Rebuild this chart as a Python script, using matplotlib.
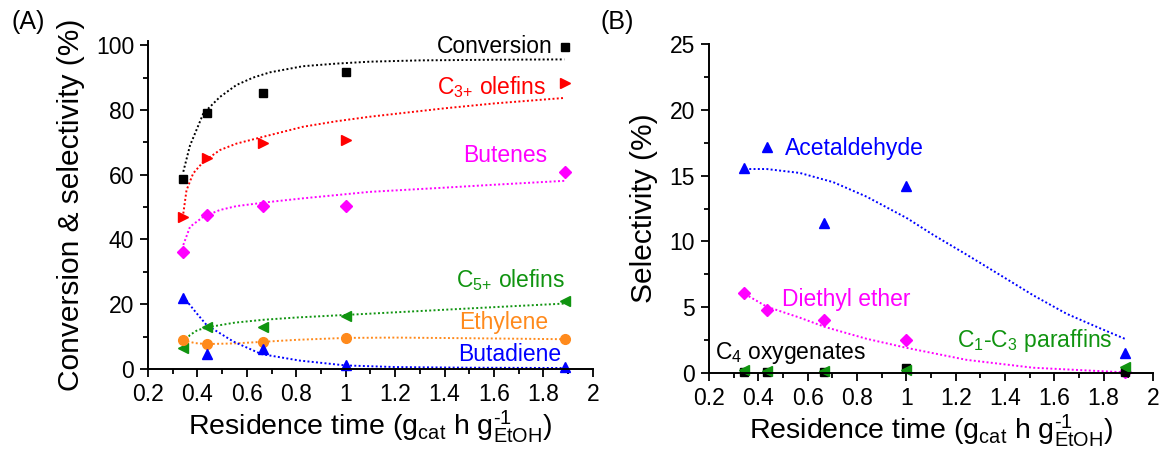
import matplotlib
matplotlib.use('Agg')
from matplotlib import pyplot as plt
from matplotlib.ticker import MultipleLocator, FuncFormatter

plt.rcParams['font.family'] = ['Liberation Sans', 'DejaVu Sans']
plt.rcParams['mathtext.fontset'] = 'custom'
plt.rcParams['mathtext.rm'] = 'Liberation Sans'
plt.rcParams['mathtext.it'] = 'Liberation Sans:italic'
plt.rcParams['mathtext.default'] = 'regular'

# residence time (g_cat h / g_EtOH)
res_time = [0.343, 0.437, 0.667, 1.0, 1.886]

# panel A: conversion & selectivity (%)
conversion = [58.6, 79.1, 85.3, 91.6, 99.5]
c3_olefins = [46.9, 65.3, 69.7, 70.8, 88.4]
butenes = [36.1, 47.5, 50.3, 50.3, 60.8]
c5_olefins = [6.4, 13.1, 13.1, 16.4, 20.9]
ethylene = [8.95, 7.7, 8.2, 9.7, 9.3]
butadiene = [22.0, 4.5, 6.3, 1.2, 0.7]

# panel B: selectivity (%)
acetaldehyde = [15.55, 17.15, 11.4, 14.2, 1.54]
diethyl_ether = [6.1, 4.8, 4.0, 2.5, 0.05]
c4_oxygenates = [0.1, 0.05, 0.05, 0.4, 0.1]
c1c3_paraffins = [0.25, 0.15, 0.15, 0.2, 0.45]

# trend curves
conv_fit_x = [0.343, 0.37, 0.424, 0.491, 0.558, 0.626, 0.693, 0.827, 0.962, 1.097, 1.3, 1.6, 1.884]
conv_fit_y = [60.9, 69.0, 78.9, 84.0, 87.7, 90.0, 91.6, 93.5, 94.3, 94.9, 95.3, 95.5, 95.6]
c3_fit_x = [0.343, 0.356, 0.383, 0.424, 0.491, 0.558, 0.666, 0.827, 0.962, 1.097, 1.4, 1.6, 1.884]
c3_fit_y = [48.0, 55.2, 60.4, 64.0, 67.6, 69.6, 71.7, 74.8, 76.5, 77.9, 80.5, 82.0, 83.7]
but_fit_x = [0.343, 0.37, 0.424, 0.491, 0.558, 0.693, 0.827, 0.962, 1.097, 1.4, 1.6, 1.884]
but_fit_y = [38.3, 43.9, 47.0, 49.1, 50.3, 51.6, 52.7, 53.7, 54.7, 56.0, 56.9, 58.1]
c5_fit_x = [0.343, 0.37, 0.40, 0.45, 0.55, 0.667, 0.8, 1.0, 1.2, 1.4, 1.6, 1.884]
c5_fit_y = [8.0, 10.5, 12.0, 13.0, 14.3, 15.2, 15.9, 16.7, 17.5, 18.3, 19.1, 20.2]
eth_fit_x = [0.343, 0.39, 0.437, 0.55, 0.667, 0.8, 1.0, 1.2, 1.5, 1.884]
eth_fit_y = [8.9, 8.0, 7.7, 7.9, 8.4, 9.0, 9.6, 9.7, 9.5, 9.2]
bd_fit_x = [0.343, 0.397, 0.437, 0.545, 0.659, 0.814, 1.0, 1.2, 1.5, 1.884]
bd_fit_y = [22.3, 17.2, 13.6, 8.5, 4.6, 2.6, 1.1, 0.6, 0.4, 0.3]

acet_fit_x = [0.346, 0.434, 0.569, 0.704, 0.839, 1.004, 1.109, 1.244, 1.38, 1.515, 1.65, 1.785, 1.886]
acet_fit_y = [15.5, 15.5, 15.2, 14.5, 13.4, 11.75, 10.5, 9.0, 7.45, 5.9, 4.5, 3.4, 2.6]
dee_fit_x = [0.346, 0.434, 0.569, 0.670, 0.839, 1.004, 1.244, 1.515, 1.886]
dee_fit_y = [6.0, 5.04, 4.2, 3.5, 2.6, 1.9, 1.0, 0.4, 0.05]

black = 'black'
red = '#ff0000'
magenta = '#ff00ff'
green = '#109410'
orange = '#ff8a1c'
blue = '#0000ff'

fig = plt.figure(figsize=(11.64, 4.5), dpi=100)
axA = fig.add_axes([0.1271, 0.18, 0.3823, 0.729])
axB = fig.add_axes([0.6091, 0.1711, 0.3814, 0.7311])

dot = (0, (1, 1.2))


def style_axis(ax):
    ax.spines['top'].set_visible(False)
    ax.spines['right'].set_visible(False)
    for s in ['left', 'bottom']:
        ax.spines[s].set_linewidth(1.4)
    ax.set_xlim(0.2, 2.0)
    ax.xaxis.set_major_locator(MultipleLocator(0.2))
    ax.xaxis.set_minor_locator(MultipleLocator(0.1))
    ax.xaxis.set_major_formatter(FuncFormatter(lambda v, p: f'{v:g}'))
    ax.tick_params(which='major', direction='out', length=6, width=1.3, labelsize=16.5, pad=4)
    ax.tick_params(which='minor', direction='out', length=3.5, width=1.3)
    ax.set_xlabel(r'Residence time (g$_{cat}$ h g$_{EtOH}^{\text{-1}}$)', fontsize=20.5, labelpad=2)


# ---- panel A
style_axis(axA)
axA.set_ylim(0, 101.3)
axA.yaxis.set_major_locator(MultipleLocator(20))
axA.yaxis.set_minor_locator(MultipleLocator(10))
axA.set_ylabel('Conversion & selectivity (%)', fontsize=21.5, labelpad=8)

axA.plot(conv_fit_x, conv_fit_y, color=black, ls=dot, lw=1.4)
axA.plot(c3_fit_x, c3_fit_y, color=red, ls=dot, lw=1.4)
axA.plot(but_fit_x, but_fit_y, color=magenta, ls=dot, lw=1.4)
axA.plot(c5_fit_x, c5_fit_y, color=green, ls=dot, lw=1.4)
axA.plot(eth_fit_x, eth_fit_y, color=orange, ls=dot, lw=1.4)
axA.plot(bd_fit_x, bd_fit_y, color=blue, ls=dot, lw=1.4)

axA.plot(res_time, conversion, 's', color=black, ms=6, clip_on=False)
axA.plot(res_time, c3_olefins, '>', color=red, ms=7.5, clip_on=False)
axA.plot(res_time, butenes, 'D', color=magenta, ms=6, clip_on=False)
axA.plot(res_time, c5_olefins, '<', color=green, ms=7.5, clip_on=False)
axA.plot(res_time, ethylene, 'o', color=orange, ms=7, clip_on=False)
axA.plot(res_time, butadiene, '^', color=blue, ms=7.5, clip_on=False)

lab = dict(fontsize=16.5, ha='right', va='center')
axA.text(1.836, 99.7, 'Conversion', color=black, **lab)
axA.text(1.81, 87.0, r'C$_{\text{3+}}$ olefins', color=red, **lab)
axA.text(1.817, 65.8, 'Butenes', color=magenta, **lab)
axA.text(1.89, 27.6, r'C$_{\text{5+}}$ olefins', color=green, **lab)
axA.text(1.82, 14.3, 'Ethylene', color=orange, **lab)
axA.text(1.87, 4.6, 'Butadiene', color=blue, **lab)

# ---- panel B
style_axis(axB)
axB.set_ylim(0, 25)
axB.yaxis.set_major_locator(MultipleLocator(5))
axB.yaxis.set_minor_locator(MultipleLocator(2.5))
axB.set_ylabel('Selectivity (%)', fontsize=21.5, labelpad=8)

axB.plot(acet_fit_x, acet_fit_y, color=blue, ls=dot, lw=1.4)
axB.plot(dee_fit_x, dee_fit_y, color=magenta, ls=dot, lw=1.4)

axB.plot(res_time, acetaldehyde, '^', color=blue, ms=7.5, clip_on=False)
axB.plot(res_time, diethyl_ether, 'D', color=magenta, ms=6, clip_on=False)
axB.plot(res_time, c4_oxygenates, 's', color=black, ms=6, clip_on=False)
axB.plot(res_time, c1c3_paraffins, '<', color=green, ms=7.5, clip_on=False)

labB = dict(fontsize=16.5, ha='left', va='center')
axB.text(0.508, 17.07, 'Acetaldehyde', color=blue, **labB)
axB.text(0.495, 5.6, 'Diethyl ether', color=magenta, **labB)
axB.text(1.204, 2.5, 'C$_1$-C$_3$ paraffins', color=green, **labB)
axB.text(0.224, 1.5, 'C$_4$ oxygenates', color=black, **labB)

fig.text(0.0103, 0.951, '(A)', fontsize=18, va='center', ha='left')
fig.text(0.5155, 0.951, '(B)', fontsize=18, va='center', ha='left')

fig.savefig('out.png', dpi=100)
